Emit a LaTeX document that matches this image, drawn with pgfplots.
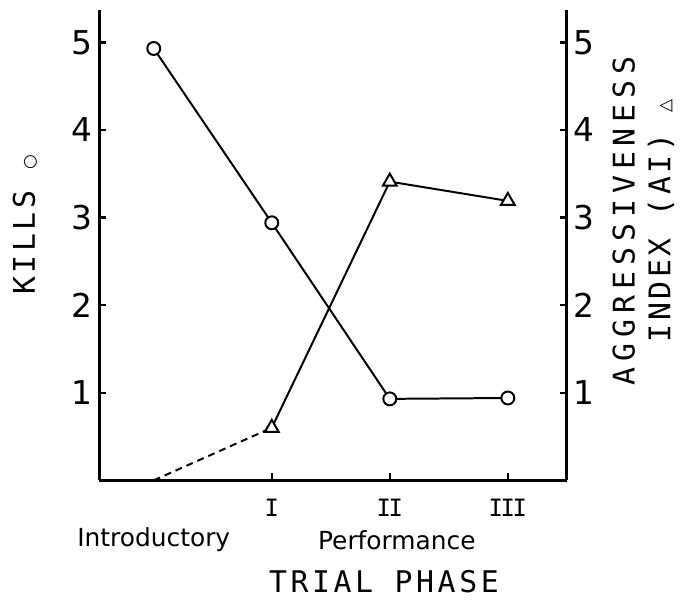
\documentclass[border=0pt]{standalone}
\usepackage{fontspec}
\setmainfont{DejaVu Sans}
\newfontfamily\labfont[LetterSpace=12]{DejaVu Sans Mono}
\newfontfamily\widefont[LetterSpace=20]{DejaVu Sans Mono}
\newfontfamily\numfont[LetterSpace=-10]{DejaVu Sans Mono}
\newfontfamily\symfont{DejaVu Sans}
\usepackage{pgfplots}
\pgfplotsset{compat=1.18}
\begin{document}
\begin{tikzpicture}
\begin{axis}[
  name=main, scale only axis, width=235pt, height=236.5pt,
  xmin=-0.46, xmax=3.5, ymin=0, ymax=5.37,
  axis x line=bottom, axis y line=left,
  axis line style={line width=1.4pt,-},
  x axis line style={-}, y axis line style={-},
  xtick={1,2,3}, xticklabels={I,II,III},
  ytick={1,2,3,4,5},
  tick align=inside, major tick length=3.5pt,
  tick style={line width=1.2pt, black},
  /pgf/number format/assume math mode=true,
  yticklabel style={font=\fontsize{16.5}{16.5}\selectfont},
  xticklabel style={font=\numfont\fontsize{12}{12}\selectfont, yshift=-6pt},
  clip=false,
]
\addplot[black, line width=1pt, dash pattern=on 3.5pt off 2.5pt] coordinates {(0,0) (1,0.60)};
\addplot[black, line width=1pt, mark=*, mark size=3.25pt, mark options={fill=white, draw=black, solid}] coordinates {(0,4.93) (1,2.94) (2,0.93) (3,0.94)};
\addplot[black, line width=1pt, mark=triangle*, mark size=4pt, mark options={fill=white, draw=black, solid}] coordinates {(1,0.60) (2,3.41) (3,3.19)};
\node[font=\fontsize{12.5}{13}\selectfont, yshift=-30pt] at (axis cs:0,0) {Introductory};
\node[font=\fontsize{12.5}{13}\selectfont, yshift=-30pt] at (axis cs:2.06,0) {Performance};
\node[font={\labfont\fontsize{15}{18}\selectfont}, yshift=-51pt] at (axis cs:1.95,0) {TRIAL PHASE};
\end{axis}
\begin{axis}[
  scale only axis, width=235pt, height=236.5pt,
  xmin=-0.46, xmax=3.5, ymin=0, ymax=5.37,
  axis x line=none, axis y line=right,
  axis line style={line width=1.4pt,-},
  y axis line style={-},
  ytick={1,2,3,4,5},
  tick align=inside, major tick length=3.5pt,
  tick style={line width=1.2pt, black},
  /pgf/number format/assume math mode=true,
  yticklabel style={font=\fontsize{16.5}{16.5}\selectfont},
]
\end{axis}
\node[rotate=90, font={\labfont\fontsize{15}{18}\selectfont}] at ([shift={(-37.5pt,128.5pt)}]main.south west) {KILLS {\symfont\fontsize{8.5}{9}\selectfont ○}};
\node[rotate=90, align=center, font={\labfont\fontsize{15}{18}\selectfont}] at ([shift={(273.5pt,130.5pt)}]main.south west) {{\widefont AGGRESSIVENESS}\\INDEX (AI) {\symfont\fontsize{8.5}{9}\selectfont △}};
\path ([shift={(-50pt,-59pt)}]main.south west) rectangle ([shift={(290.5pt,241.5pt)}]main.south west);
\end{tikzpicture}
\end{document}
